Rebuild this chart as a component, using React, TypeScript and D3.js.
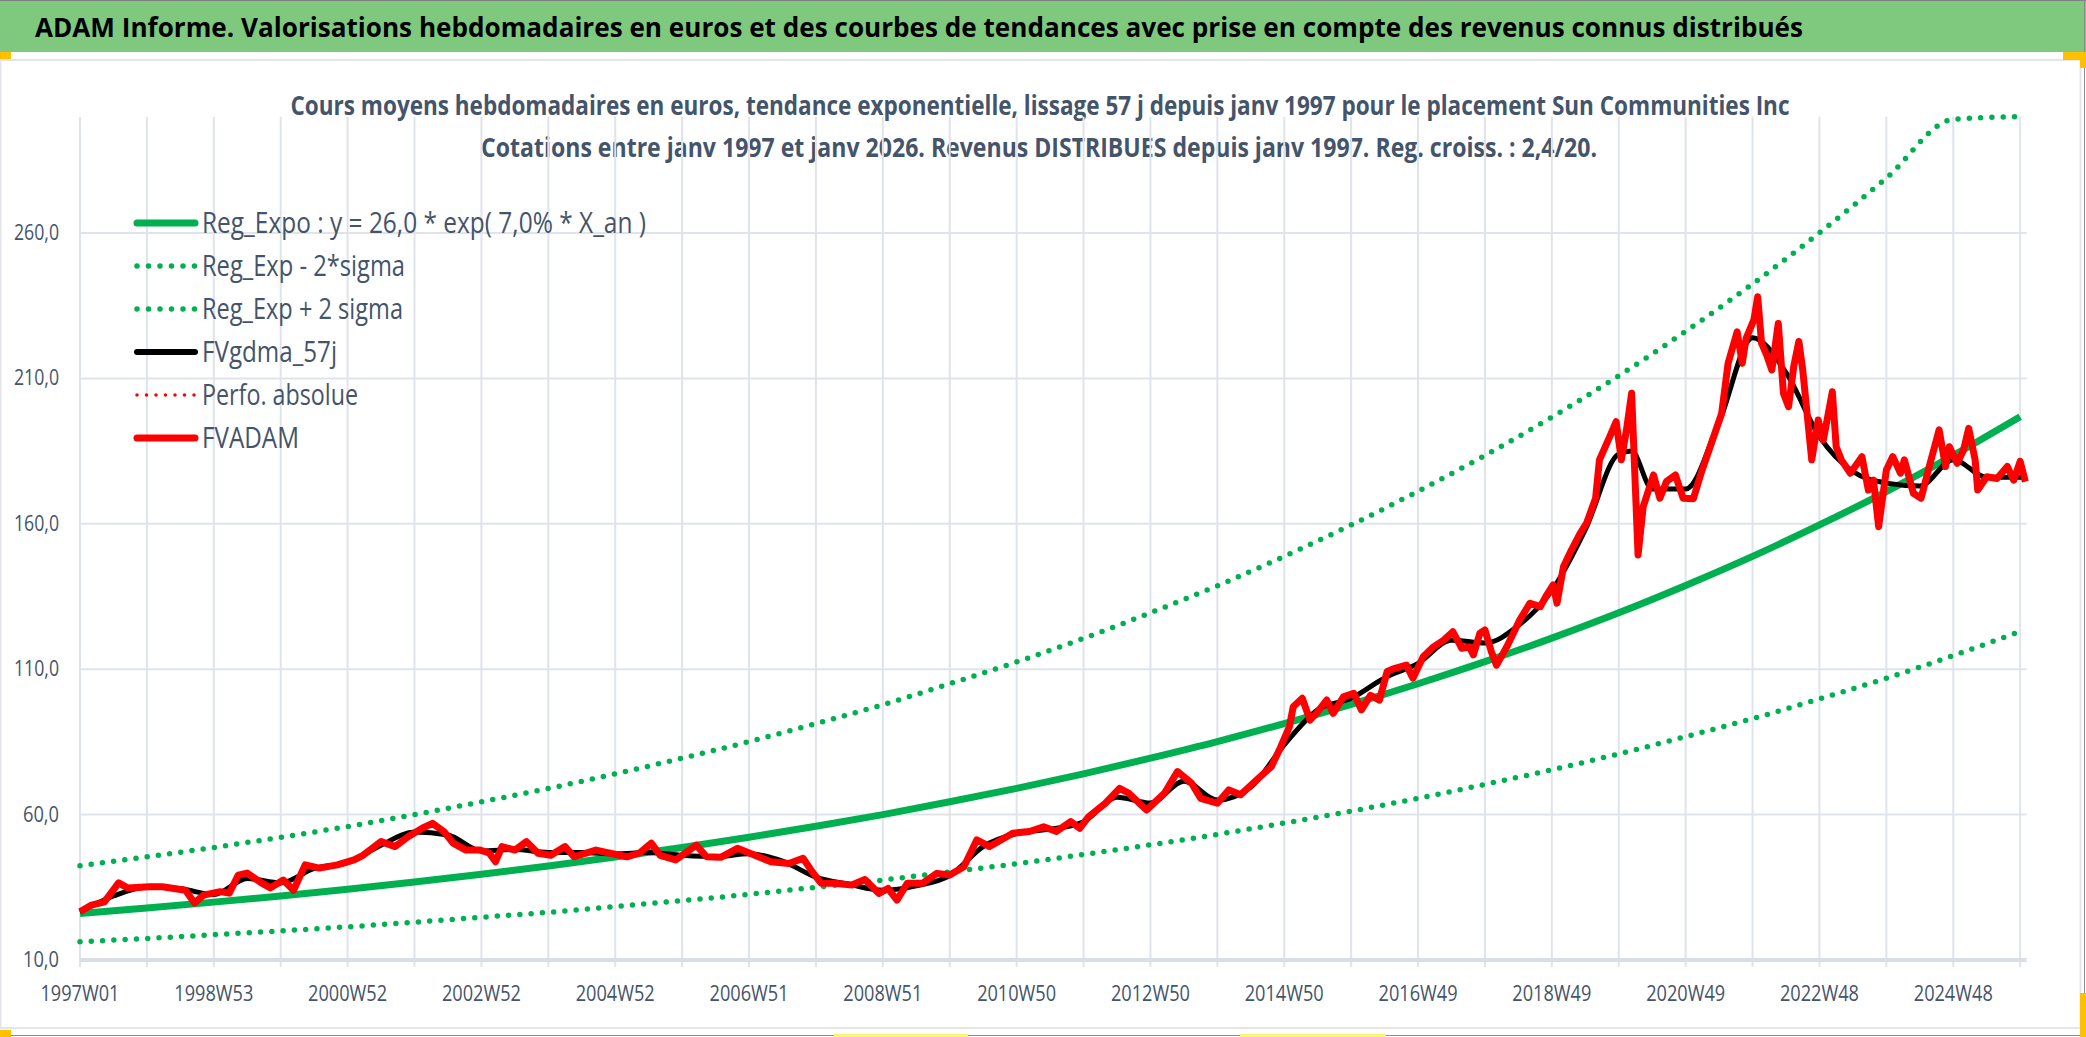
import * as d3 from "d3";
import { useEffect, useRef } from "react";

const W = 2086;
const H = 1037;

const title = "ADAM Informe. Valorisations hebdomadaires en euros et des courbes de tendances avec prise en compte des revenus connus distribués";
const subtitle1 = "Cours moyens hebdomadaires en euros, tendance exponentielle, lissage 57 j depuis janv 1997 pour le placement Sun Communities Inc";
const subtitle2 = "Cotations entre janv 1997 et janv 2026. Revenus DISTRIBUES depuis janv 1997. Reg. croiss. : 2,4/20.";

// category axis: one label every 104 weeks
const weekLabels = [
  "1997W01", "1998W53", "2000W52", "2002W52", "2004W52", "2006W51", "2008W51", "2010W50",
  "2012W50", "2014W50", "2016W49", "2018W49", "2020W49", "2022W48", "2024W48",
];
const yTicks = [10, 60, 110, 160, 210, 260];

// trend curves, one value per 52 weeks
const regExpo = [
  26.0, 27.9, 29.9, 32.0, 34.3, 36.8, 39.5, 42.3, 45.4, 48.7, 52.2, 56.0, 60.0, 64.4, 69.0,
  74.0, 79.4, 85.1, 91.3, 97.9, 105.0, 112.6, 120.7, 129.4, 138.8, 148.8, 159.6, 171.1, 183.5, 196.8,
];
const regMinus = [
  16.3, 17.4, 18.7, 20.0, 21.4, 23.0, 24.7, 26.4, 28.4, 30.4, 32.6, 35.0, 37.5, 40.3, 43.1,
  46.3, 49.6, 53.2, 57.1, 61.2, 65.6, 70.4, 75.4, 80.9, 86.8, 93.0, 99.8, 106.9, 114.7, 123.0,
];
const regPlus = [
  42.4, 45.5, 48.7, 52.2, 55.9, 60.0, 64.4, 69.0, 74.0, 79.4, 85.1, 91.3, 97.8, 105.0, 112.5,
  120.6, 129.4, 138.7, 148.8, 159.6, 171.2, 183.5, 196.7, 210.9, 226.2, 242.5, 260.1, 278.9, 299.1, 320.8,
];

// [week index, value]
const fvadam: [number, number][] = [
  [0, 26.6], [9, 28.9], [19, 30], [30, 36.5], [37, 34.8], [54, 35.2], [64, 35.2], [82, 34], [89, 29.6],
  [96, 32.3], [109, 33.5], [116, 33], [123, 39.2], [130, 39.9], [141, 36.5], [148, 34.8], [158, 37.5],
  [166, 34], [175, 42.7], [186, 41.6], [200, 42.7], [213, 44.4], [220, 46], [234, 50.7], [245, 49],
  [255, 52.4], [266, 55.3], [274, 57], [283, 54.1], [290, 50.2], [300, 47.8], [311, 47.8], [318, 46.8],
  [323, 43.8], [328, 49], [338, 47.8], [347, 50.7], [356, 46.7], [366, 46], [377, 49], [384, 45.5],
  [401, 47.8], [411, 46.8], [425, 45.5], [435, 46.8], [444, 50.2], [451, 46], [463, 44.4], [479, 49.5],
  [487, 45.5], [498, 45.3], [511, 48.4], [524, 46.1], [537, 43.8], [551, 43.2], [562, 45], [569, 40.4],
  [576, 36.4], [586, 36.4], [600, 35.8], [610, 37.7], [621, 32.9], [628, 34.6], [635, 30.6], [643, 36.4],
  [655, 36.4], [666, 39.8], [676, 39.2], [687, 42.1], [697, 51.3], [707, 49], [725, 53.6], [738, 54.2],
  [749, 55.8], [759, 54.2], [770, 57.6], [777, 55.3], [784, 59.3], [797, 63.9], [808, 69], [815, 67.4],
  [829, 61.6], [843, 67.4], [853, 74.8], [864, 70.8], [871, 65.6], [884, 63.9], [893, 68.5], [902, 66.8],
  [916, 72.5], [926, 76.5], [933, 83], [940, 90.2], [943, 97.1], [950, 100], [956, 92.5], [961, 94.8],
  [969, 99.4], [974, 94.8], [982, 100.5], [990, 101.7], [996, 96], [1003, 101], [1010, 99.4], [1016, 109.2],
  [1022, 110.3], [1031, 111.4], [1036, 106.9], [1044, 114.3], [1052, 117.7], [1060, 120], [1067, 122.9],
  [1074, 117.2], [1080, 117.7], [1083, 114.9], [1088, 122.3], [1092, 123.5], [1097, 116], [1101, 111.4],
  [1109, 117.7], [1114, 122.3], [1119, 126.9], [1127, 132.7], [1135, 131.5], [1140, 135.5], [1145, 139],
  [1148, 132.7], [1153, 145.2], [1158, 149.9], [1166, 156.7], [1171, 160.2], [1178, 168.8], [1181, 182],
  [1189, 190], [1194, 195.1], [1198, 182], [1202, 192.3], [1206, 204.9], [1211, 149.3], [1215, 165.9],
  [1223, 176.8], [1228, 168.8], [1233, 174.5], [1240, 176.8], [1246, 168.8], [1254, 168.6], [1260, 177.4],
  [1268, 187.7], [1276, 198], [1281, 215.2], [1288, 226], [1292, 215.2], [1295, 223.8], [1301, 230.1],
  [1304, 238.1], [1307, 222.1], [1311, 218], [1315, 212.9], [1320, 228.9], [1324, 204.9], [1328, 200.3],
  [1332, 214.1], [1336, 222.7], [1339, 212.9], [1346, 182], [1351, 195.7], [1355, 188.8], [1362, 205.4],
  [1365, 186.5], [1369, 182], [1376, 177.4], [1385, 183.1], [1390, 171.6], [1394, 175], [1398, 159],
  [1404, 178.5], [1409, 183.1], [1415, 177.4], [1418, 182], [1425, 170.5], [1431, 168.8], [1438, 180.8],
  [1445, 192.3], [1450, 179.7], [1453, 186.5], [1459, 180.8], [1464, 185.4], [1468, 192.8], [1473, 182],
  [1475, 171.6], [1482, 176.2], [1490, 175.6], [1498, 179.7], [1503, 175], [1508, 181.5], [1512, 174.5],
];

// smoothed 57 day average, read roughly every half year
const fvgdma: [number, number][] = [
  [0, 26.5], [26, 32], [52, 35], [78, 34.5], [104, 32.5], [130, 38], [156, 36.5], [182, 41.5], [208, 43.5],
  [234, 49.5], [260, 54], [286, 53], [312, 47.5], [338, 48], [364, 47], [390, 47], [416, 46.5], [442, 47],
  [468, 46], [494, 45.5], [520, 46.5], [546, 44], [572, 38.5], [598, 36], [624, 34], [650, 35.5], [676, 39],
  [702, 49], [728, 53.5], [754, 55], [780, 57.5], [806, 66], [832, 64], [858, 71.5], [884, 65], [910, 69.5],
  [936, 84], [962, 96], [988, 100], [1014, 107], [1040, 112], [1066, 120], [1092, 119], [1118, 125],
  [1144, 137], [1170, 158], [1196, 184], [1206, 185], [1222, 172], [1248, 172], [1274, 195], [1300, 224],
  [1326, 212], [1352, 190], [1378, 178], [1404, 174], [1430, 173], [1456, 182], [1482, 176], [1512, 176],
];

const legendItems = [
  { label: "Reg_Expo : y = 26,0 * exp( 7,0% *  X_an )", color: "#00b050", width: 7, dash: "", len: 444 },
  { label: "Reg_Exp - 2*sigma", color: "#00b050", width: 5.5, dash: "0 11.5", len: 203 },
  { label: "Reg_Exp + 2 sigma", color: "#00b050", width: 5.5, dash: "0 11.5", len: 201 },
  { label: "FVgdma_57j", color: "#000000", width: 6, dash: "", len: 135 },
  { label: "Perfo. absolue", color: "#ff0000", width: 3.5, dash: "0 9.5", len: 156 },
  { label: "FVADAM", color: "#ff0000", width: 7, dash: "", len: 97 },
];

const textColor = "#44546a";
const gridColor = "#dfe3ea";
const font = "'Open Sans', 'Noto Sans', sans-serif";

export default function App() {
  const svgRef = useRef<SVGSVGElement>(null);

  useEffect(() => {
    document.body.style.margin = "0";
    if (!svgRef.current) return;
    const svg = d3.select(svgRef.current);
    svg.selectAll("*").remove();

    const x = d3.scaleLinear().domain([0, 1513]).range([80, 2026.6]);
    const y = d3.scaleLinear().domain([10, 300]).range([960, 116.7]).clamp(true);

    // page frame
    svg.append("rect").attr("width", W).attr("height", H).attr("fill", "#ffffff");
    svg.append("rect").attr("x", 0).attr("y", 0).attr("width", W).attr("height", 52).attr("fill", "#7fc97f");
    svg.append("line").attr("x1", 0).attr("x2", W).attr("y1", 0.5).attr("y2", 0.5).attr("stroke", "#7f7f7f");
    svg.append("rect").attr("x", 0.5).attr("y", 60).attr("width", 2080).attr("height", 968)
      .attr("fill", "none").attr("stroke", "#e3e5ea").attr("stroke-width", 2);
    svg.append("line").attr("x1", 0).attr("x2", W).attr("y1", 1035.5).attr("y2", 1035.5).attr("stroke", "#8c8c8c");
    svg.append("line").attr("x1", 2084.5).attr("x2", 2084.5).attr("y1", 0).attr("y2", H).attr("stroke", "#8c8c8c");

    // selection handles
    const handles = [
      [0, 52, 11, 7, "#ffc000"], [2063, 52, 23, 8, "#ffc000"], [2080, 52, 6, 16, "#ffc000"],
      [0, 1030, 11, 7, "#ffc000"], [2080, 993, 6, 44, "#ffc000"], [834, 1034, 134, 3, "#fff27a"],
      [1240, 1034, 146, 3, "#fff27a"],
    ] as [number, number, number, number, string][];
    svg.selectAll("rect.handle").data(handles).join("rect").attr("class", "handle")
      .attr("x", (d) => d[0]).attr("y", (d) => d[1]).attr("width", (d) => d[2]).attr("height", (d) => d[3])
      .attr("fill", (d) => d[4]);

    // titles, centred so that the squeezed text keeps inside the page
    svg.append("text").attr("x", 919).attr("y", 37).attr("text-anchor", "middle")
      .attr("font-family", font).attr("font-weight", "bold")
      .attr("font-size", 26).attr("fill", "#000").attr("textLength", 1768).attr("lengthAdjust", "spacingAndGlyphs")
      .text(title);
    svg.append("text").attr("x", 1040).attr("y", 115).attr("text-anchor", "middle")
      .attr("font-family", font).attr("font-weight", "bold")
      .attr("font-size", 26).attr("fill", textColor).attr("textLength", 1499).attr("lengthAdjust", "spacingAndGlyphs")
      .text(subtitle1);
    svg.append("text").attr("x", 1039).attr("y", 157).attr("text-anchor", "middle")
      .attr("font-family", font).attr("font-weight", "bold")
      .attr("font-size", 26).attr("fill", textColor).attr("textLength", 1116).attr("lengthAdjust", "spacingAndGlyphs")
      .text(subtitle2);

    // grid
    const vGrid = d3.range(0, 1509, 52);
    svg.append("g").selectAll("line").data(vGrid).join("line")
      .attr("x1", (d) => x(d)).attr("x2", (d) => x(d)).attr("y1", y(300)).attr("y2", 967)
      .attr("stroke", gridColor).attr("stroke-width", 2);
    svg.append("g").selectAll("line").data(yTicks.slice(1)).join("line")
      .attr("x1", x(0)).attr("x2", x(1513)).attr("y1", (d) => y(d)).attr("y2", (d) => y(d))
      .attr("stroke", gridColor).attr("stroke-width", 2);
    svg.append("line").attr("x1", x(0)).attr("x2", x(1513)).attr("y1", y(10)).attr("y2", y(10))
      .attr("stroke", "#d9dde4").attr("stroke-width", 4);

    const yFmt = (d: number) => d3.format(".1f")(d).replace(".", ",");
    svg.append("g").selectAll("text").data(yTicks).join("text")
      .attr("x", 59).attr("y", (d) => y(d) + 7).attr("text-anchor", "end")
      .attr("font-family", font).attr("font-size", 21).attr("fill", textColor)
      .attr("textLength", (d) => yFmt(d).length * 9).attr("lengthAdjust", "spacingAndGlyphs")
      .text(yFmt);
    svg.append("g").selectAll("text").data(weekLabels).join("text")
      .attr("x", (_, i) => x(i * 104)).attr("y", 1001).attr("text-anchor", "middle")
      .attr("font-family", font).attr("font-size", 21).attr("fill", textColor)
      .attr("textLength", 79).attr("lengthAdjust", "spacingAndGlyphs")
      .text((d) => d);

    const trend = d3.line<number>().x((_, i) => x(i * 52)).y((d) => y(d)).curve(d3.curveMonotoneX);
    const smooth = d3.line<[number, number]>().x((d) => x(d[0])).y((d) => y(d[1])).curve(d3.curveMonotoneX);
    const series = d3.line<[number, number]>().x((d) => x(d[0])).y((d) => y(d[1]));

    svg.append("path").attr("d", trend(regMinus)).attr("fill", "none").attr("stroke", "#00b050")
      .attr("stroke-width", 5.5).attr("stroke-linecap", "round").attr("stroke-dasharray", "0 11.3");
    svg.append("path").attr("d", trend(regPlus)).attr("fill", "none").attr("stroke", "#00b050")
      .attr("stroke-width", 5.5).attr("stroke-linecap", "round").attr("stroke-dasharray", "0 11.3");
    svg.append("path").attr("d", trend(regExpo)).attr("fill", "none").attr("stroke", "#00b050")
      .attr("stroke-width", 7);
    svg.append("path").attr("d", smooth(fvgdma)).attr("fill", "none").attr("stroke", "#000")
      .attr("stroke-width", 5).attr("stroke-linejoin", "round");
    svg.append("path").attr("d", series(fvadam)).attr("fill", "none").attr("stroke", "#ff0000")
      .attr("stroke-width", 7).attr("stroke-linejoin", "round");

    // legend
    const legend = svg.append("g").selectAll("g").data(legendItems).join("g")
      .attr("transform", (_, i) => `translate(0, ${223 + i * 43})`);
    legend.append("line").attr("x1", 137).attr("x2", 195).attr("y1", 0).attr("y2", 0)
      .attr("stroke", (d) => d.color).attr("stroke-width", (d) => d.width)
      .attr("stroke-linecap", "round").attr("stroke-dasharray", (d) => d.dash || null);
    legend.append("text").attr("x", 202).attr("y", 10).attr("font-family", font).attr("font-size", 29)
      .attr("fill", textColor).attr("textLength", (d) => d.len).attr("lengthAdjust", "spacingAndGlyphs")
      .text((d) => d.label);
  }, []);

  return <svg ref={svgRef} width={W} height={H} style={{ display: "block" }} />;
}
